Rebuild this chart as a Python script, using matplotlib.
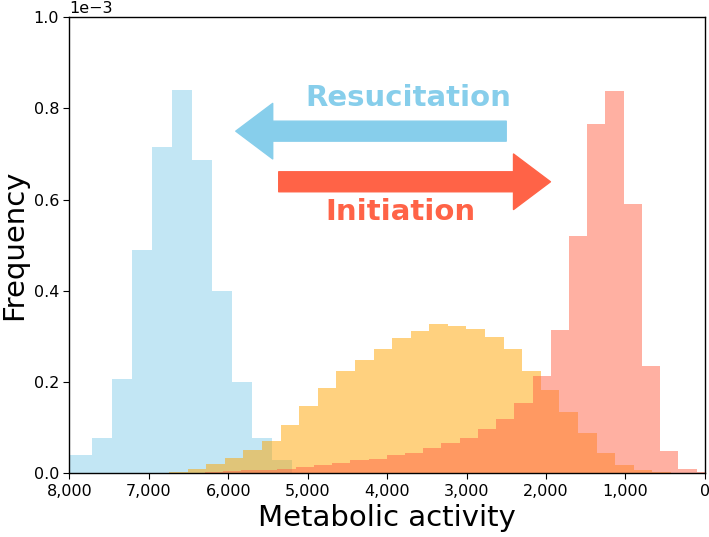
import numpy as np
import matplotlib
matplotlib.use("Agg")
import matplotlib.pyplot as plt
from matplotlib.ticker import FuncFormatter

# bin edges (metabolic activity, ascending) and frequencies (x1e-3)
blue_edges = [5192, 5444, 5696, 5948, 6200, 6452, 6704, 6956, 7208, 7460, 7712, 7964, 8216]
blue_freq = [0.028, 0.078, 0.199, 0.400, 0.686, 0.840, 0.716, 0.489, 0.206, 0.078, 0.039, 0.039]

orange_edges = [193, 427, 661, 895, 1129, 1363, 1597, 1831, 2065, 2299, 2533,
                2767, 3001, 3235, 3469, 3703, 3937, 4171, 4405, 4639, 4873,
                5107, 5341, 5575, 5809, 6043, 6277, 6511, 6745, 6979]
orange_freq = [0.001, 0.002, 0.007, 0.018, 0.044, 0.087, 0.133, 0.183, 0.224, 0.273,
               0.299, 0.315, 0.322, 0.327, 0.311, 0.297, 0.273, 0.249, 0.224, 0.187,
               0.147, 0.106, 0.071, 0.050, 0.034, 0.021, 0.010, 0.003, 0.001]

red_edges = [-126.5, 103, 332.5, 562, 791.5, 1021, 1250.5, 1480, 1709.5, 1939, 2168.5,
             2398, 2627.5, 2857, 3086.5, 3316, 3545.5, 3775, 4004.5, 4234, 4463.5,
             4693, 4922.5, 5152, 5381.5, 5611, 5840.5, 6070, 6299.5, 6529]
red_freq = [0.003, 0.009, 0.049, 0.235, 0.590, 0.838, 0.765, 0.520, 0.314, 0.213,
            0.154, 0.118, 0.096, 0.076, 0.065, 0.054, 0.045, 0.039, 0.032, 0.028,
            0.023, 0.018, 0.014, 0.010, 0.007, 0.006, 0.004, 0.002, 0.001]

x_ticks = [8000, 7000, 6000, 5000, 4000, 3000, 2000, 1000, 0]


def hist_from(ax, edges, freq, color):
    edges = np.array(edges, dtype=float)
    centers = (edges[:-1] + edges[1:]) / 2
    ax.hist(centers, bins=edges, weights=np.array(freq) * 1e-3, color=color, alpha=0.5)


fig = plt.figure(figsize=(7.09, 5.37), dpi=100)
ax = fig.add_axes([0.098, 0.119, 0.896, 0.849])

hist_from(ax, blue_edges, blue_freq, 'skyblue')
hist_from(ax, orange_edges, orange_freq, 'orange')
hist_from(ax, red_edges, red_freq, 'tomato')

ax.set_xlim(8000, 0)
ax.set_ylim(0, 1e-3)
ax.set_xticks(x_ticks)
ax.xaxis.set_major_formatter(FuncFormatter(lambda v, p: '{:,.0f}'.format(v)))
ax.ticklabel_format(axis='y', style='sci', scilimits=(0, 0))
ax.tick_params(labelsize=11.5, length=4)
ax.yaxis.get_offset_text().set_fontsize(11.5)
for s in ax.spines.values():
    s.set_linewidth(1.0)

ax.set_xlabel('Metabolic activity', fontsize=21)
ax.set_ylabel('Frequency', fontsize=21)

# arrows + labels
style = 'simple,head_length=26.6,head_width=40,tail_width=14.4'
ax.annotate('', xy=(5906, 0.75e-3), xytext=(2500, 0.75e-3),
            arrowprops=dict(arrowstyle=style, color='skyblue',
                            shrinkA=0, shrinkB=0, mutation_scale=1))
ax.annotate('', xy=(1943, 0.639e-3), xytext=(5365, 0.639e-3),
            arrowprops=dict(arrowstyle=style, color='tomato',
                            shrinkA=0, shrinkB=0, mutation_scale=1))
ax.text(3730, 0.822e-3, 'Resucitation', color='skyblue', fontsize=21,
        fontweight='bold', ha='center', va='center')
ax.text(3830, 0.572e-3, 'Initiation', color='tomato', fontsize=21,
        fontweight='bold', ha='center', va='center')

fig.savefig('out.png', dpi=100)
